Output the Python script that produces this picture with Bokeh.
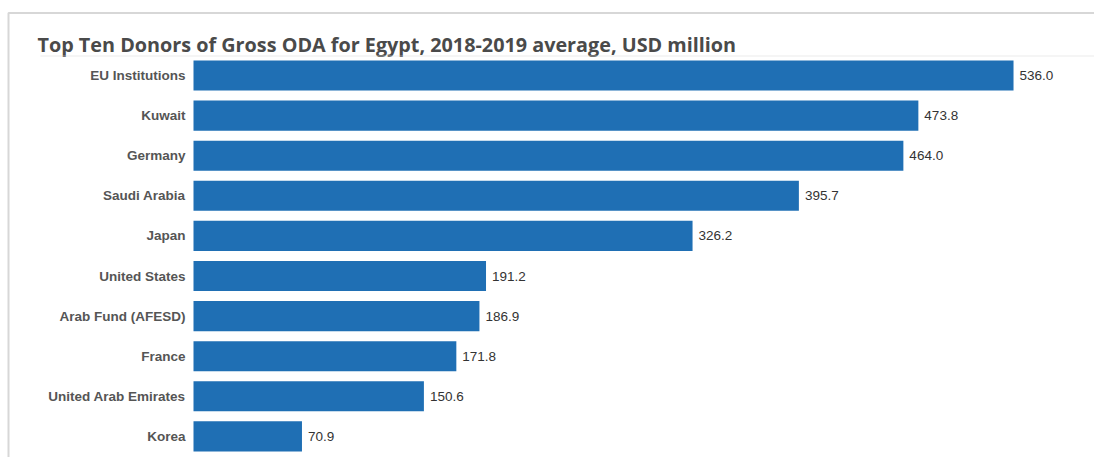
import numpy as np
from bokeh.plotting import figure
from bokeh.models import ColumnDataSource, Range1d, BoxAnnotation, Label
from bokeh.core.properties import value
from bokeh.embed import file_html
from bokeh.resources import INLINE

# ---- data ----
donors = ["EU Institutions", "Kuwait", "Germany", "Saudi Arabia", "Japan",
          "United States", "Arab Fund (AFESD)", "France", "United Arab Emirates", "Korea"]
values = [536.0, 473.8, 464.0, 395.7, 326.2, 191.2, 186.9, 171.8, 150.6, 70.9]
title_text = "Top Ten Donors of Gross ODA for Egypt, 2018-2019 average, USD million"

rows = np.arange(len(donors))          # row order, top to bottom
value_labels = [f"{v:.1f}" for v in values]
src = ColumnDataSource(dict(row=rows, donor=donors, value=values, label=value_labels))

# ---- layout constants (pixels) ----
W, H = 1094, 457
bar_x0 = 193            # pixel of value 0
px_per_unit = 1.5299    # pixels per USD million
row0_y = 75             # pixel centre of first row
row_step = 40.1         # pixels between rows

x_range = Range1d(-bar_x0 / px_per_unit, (W - bar_x0) / px_per_unit)
y_range = Range1d((H - row0_y) / row_step, -row0_y / row_step)   # flipped: first row at top

p = figure(width=W, height=H, output_backend="svg", toolbar_location=None,
           x_range=x_range, y_range=y_range,
           min_border_left=0, min_border_right=0, min_border_top=0, min_border_bottom=0,
           outline_line_color=None, background_fill_color="white", border_fill_color="white")
p.axis.visible = False
p.grid.grid_line_color = None

p.hbar(y="row", left=0, right="value", height=0.75, source=src,
       fill_color="#1f6fb4", line_color=None)

# category labels (left of bars)
p.text(x=0, y="row", text="donor", source=src, x_offset=-8,
       text_align="right", text_baseline="middle",
       text_font=value("Liberation Sans"), text_font_style="bold",
       text_font_size="13.5px", text_color="#555555")

# value labels
p.text(x="value", y="row", text="label", source=src, x_offset=6,
       text_align="left", text_baseline="middle",
       text_font=value("Liberation Sans"), text_font_size="13.5px",
       text_color="#333333")

# title
p.add_layout(Label(x=37, y=H - 44, x_units="screen", y_units="screen", text=title_text,
                   text_font="Open Sans", text_font_style="bold", text_font_size="19.8px",
                   text_color="#4a4a4a", text_baseline="alphabetic"))

# panel border (left and top) and title separator
p.add_layout(BoxAnnotation(left=8, right=W + 100, top=H - 12.5, bottom=-100,
                           left_units="screen", right_units="screen",
                           top_units="screen", bottom_units="screen",
                           fill_color=None, line_color="#7c7c7c", line_width=2))
p.add_layout(BoxAnnotation(left=40, right=W + 100, top=H - 55.5, bottom=H - 55.5,
                           left_units="screen", right_units="screen",
                           top_units="screen", bottom_units="screen",
                           fill_color=None, line_color="#dcdcdc", line_width=1))

open("out.html", "w").write(file_html(p, INLINE))
